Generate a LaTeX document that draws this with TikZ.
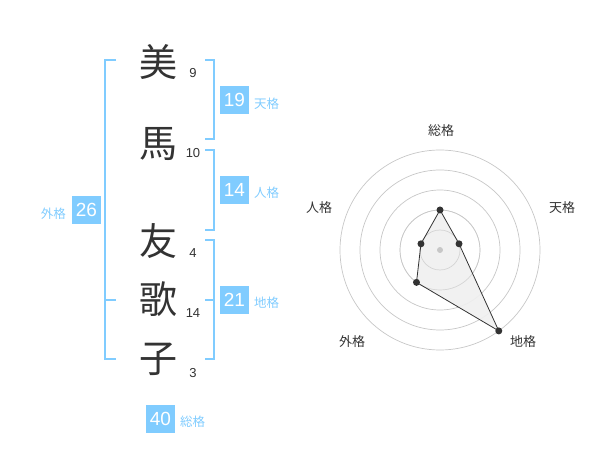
\documentclass[tikz,border=0pt]{standalone}
\usepackage{fontspec}
\setmainfont{Liberation Sans}
\newfontfamily\jp{Noto Sans CJK JP}
\definecolor{sky}{HTML}{80CCFF}
\definecolor{ink}{HTML}{333333}
\begin{document}
\begin{tikzpicture}[x=1pt,y=-1pt,
  kanji/.style={font=\jp\fontsize{38}{38}\selectfont, text=ink, inner sep=0pt},
  strokes/.style={font=\fontsize{13}{13}\selectfont, text=ink, inner sep=0pt},
  valbox/.style={fill=sky, text=white, minimum width=29pt, minimum height=28pt, inner sep=0pt, font=\fontsize{19}{19}\selectfont},
  kaku/.style={font=\jp\fontsize{12.5}{12.5}\selectfont, text=sky, inner sep=0pt},
  brk/.style={draw=sky, line width=2pt},
  ring/.style={draw=black!22, line width=0.7pt},
  rlabel/.style={font=\jp\fontsize{13}{13}\selectfont, text=ink, inner sep=0pt},
  dot/.style={circle, fill=ink, inner sep=0pt, minimum size=7pt}
]
\useasboundingbox (0,0) rectangle (600,470);
% characters
\node[kanji] (c1) at (158,62) {美};
\node[kanji] (c2) at (158,144) {馬};
\node[kanji] (c3) at (158,241) {友};
\node[kanji] (c4) at (158,299) {歌};
\node[kanji] (c5) at (158,359) {子};
\node[strokes] (n1) at (193,73) {9};
\node[strokes] (n2) at (193,153) {10};
\node[strokes] (n3) at (193,253) {4};
\node[strokes] (n4) at (193,313) {14};
\node[strokes] (n5) at (193,373) {3};
% brackets
\draw[brk] (116,60) -- (105,60) -- (105,359) -- (116,359);
\draw[brk] (105,300) -- (116,300);
\draw[brk] (205,60) -- (214,60) -- (214,139) -- (205,139);
\draw[brk] (205,150) -- (214,150) -- (214,230) -- (205,230);
\draw[brk] (205,240) -- (214,240) -- (214,359) -- (205,359);
\draw[brk] (205,300) -- (214,300);
% value boxes
\node[valbox] (ten) at (234.5,100) {19};
\node[kaku, anchor=west] (tenl) at (254,104) {天格};
\node[valbox] (jin) at (234.5,190) {14};
\node[kaku, anchor=west] (jinl) at (254,193) {人格};
\node[valbox] (chi) at (234.5,300) {21};
\node[kaku, anchor=west] (chil) at (254,303) {地格};
\node[valbox] (gai) at (86.5,210) {26};
\node[kaku, anchor=east] (gail) at (66,214) {外格};
\node[valbox] (sou) at (160.5,419) {40};
\node[kaku, anchor=west] (soul) at (180,422) {総格};
% radar
\begin{scope}[shift={(440,250)}, yscale=-1]
  \foreach \r in {20,40,60,80,100} \draw[ring] (0,0) circle (\r);
  \coordinate (pS) at (90:40);
  \coordinate (pT) at (18:20);
  \coordinate (pC) at (-54:100);
  \coordinate (pG) at (-126:40);
  \coordinate (pJ) at (162:20);
  \fill[black!6, opacity=0.9] (pS) -- (pT) -- (pC) -- (pG) -- (pJ) -- cycle;
  \foreach \r in {20,40} \draw[ring, opacity=0.6] (0,0) circle (\r);
  \draw[ink, line width=0.8pt] (pS) -- (pT) -- (pC) -- (pG) -- (pJ) -- cycle;
  \node[circle, fill=black!22, inner sep=0pt, minimum size=6pt] (ctr) at (0,0) {};
  \foreach \p in {pS,pT,pC,pG,pJ} \node[dot] (d\p) at (\p) {};
\end{scope}
\node[rlabel] (lS) at (441,131) {総格};
\node[rlabel] (lT) at (562,208) {天格};
\node[rlabel] (lC) at (523,342) {地格};
\node[rlabel] (lG) at (352,342) {外格};
\node[rlabel] (lJ) at (319,208) {人格};
\end{tikzpicture}
\end{document}
